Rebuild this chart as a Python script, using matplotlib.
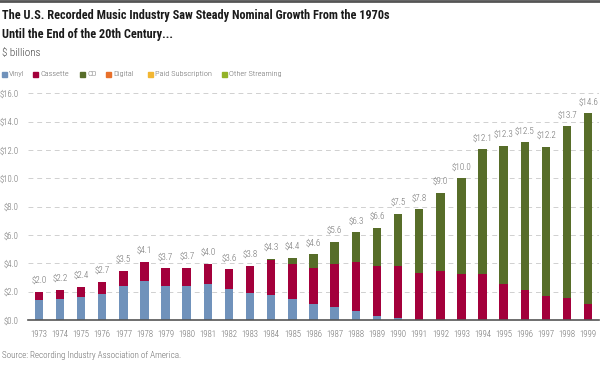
import matplotlib
matplotlib.use('Agg')
import matplotlib.pyplot as plt
import numpy as np
from matplotlib.patches import Rectangle
from matplotlib.lines import Line2D

plt.rcParams['font.family'] = ['Roboto Condensed', 'DejaVu Sans']

years = [str(y) for y in range(1973, 2000)]
vinyl = [1.38, 1.50, 1.64, 1.85, 2.40, 2.72, 2.40, 2.43, 2.56, 2.20, 1.90,
         1.78, 1.50, 1.14, 0.91, 0.66, 0.28, 0.12, 0.0, 0.0, 0.0, 0.0, 0.0,
         0.0, 0.0, 0.0, 0.0]
cassette = [0.60, 0.65, 0.70, 0.85, 1.05, 1.38, 1.25, 1.25, 1.40, 1.38, 1.90,
            2.45, 2.47, 2.55, 3.02, 3.43, 3.53, 3.72, 3.30, 3.46, 3.22, 3.27,
            2.56, 2.14, 1.67, 1.55, 1.11]
cd = [0.0, 0.0, 0.0, 0.0, 0.0, 0.0, 0.0, 0.0, 0.0, 0.0, 0.0,
      0.10, 0.40, 0.94, 1.60, 2.10, 2.71, 3.65, 4.51, 5.52, 6.78, 8.78,
      9.72, 10.40, 10.53, 12.12, 13.48]
totals = ['$2.0', '$2.2', '$2.4', '$2.7', '$3.5', '$4.1', '$3.7', '$3.7', '$4.0',
          '$3.6', '$3.8', '$4.3', '$4.4', '$4.6', '$5.6', '$6.3', '$6.6', '$7.5',
          '$7.8', '$9.0', '$10.0', '$12.1', '$12.3', '$12.5', '$12.2', '$13.7', '$14.6']
legend_labels = ['Vinyl', 'Cassette', 'CD', 'Digital', 'Paid Subscription', 'Other Streaming']

c_vinyl = '#7092bb'
c_cass = '#a3003b'
c_cd = '#576d29'
legend_colors = [c_vinyl, c_cass, c_cd, '#e8702a', '#f2b632', '#93b228']
grey = '#6e6e6e'

W, H = 600, 368
fig = plt.figure(figsize=(6, 3.68), dpi=100)
ax = fig.add_axes([0.047, 0.1304, 0.951, 0.616])

x = np.arange(len(years))
w = 0.4
v = np.array(vinyl)
c = np.array(cassette)
d = np.array(cd)
ax.bar(x, v, w, color=c_vinyl, zorder=3)
ax.bar(x, c, w, bottom=v, color=c_cass, zorder=3)
ax.bar(x, d, w, bottom=v + c, color=c_cd, zorder=3)

top = v + c + d
for i in range(len(x)):
    ax.annotate(totals[i], (x[i], top[i]), xytext=(0, 5), textcoords='offset points',
                ha='center', va='bottom', fontsize=6.5, color=grey, fontweight='light')

ax.set_xlim(-0.5, len(years) - 0.5)
ax.set_ylim(0, 16)
ax.set_yticks(np.arange(0, 17, 2))
ax.set_yticklabels(['$%.1f' % t for t in np.arange(0, 17, 2)], fontweight='light')
ax.set_xticks(x)
ax.set_xticklabels(years, fontweight='light')
ax.tick_params(axis='both', length=0, labelsize=6.3, labelcolor=grey)
ax.tick_params(axis='x', pad=7)
ax.tick_params(axis='y', pad=7)
ax.grid(axis='y', color='#d0d0d0', linestyle=(0, (5, 4)), linewidth=0.7, zorder=0)
for s in ['top', 'right', 'left']:
    ax.spines[s].set_visible(False)
ax.spines['bottom'].set_color('#555555')
ax.spines['bottom'].set_linewidth(1.2)
ax.spines['bottom'].set_zorder(4)

fig.add_artist(Line2D([0, 1], [0.997, 0.997], color='#555555', linewidth=2))
fig.text(0.003, 0.975, 'The U.S. Recorded Music Industry Saw Steady Nominal Growth From the 1970s\n'
         'Until the End of the 20th Century...', fontsize=8.8, fontweight='bold',
         va='top', ha='left', color='#1a1a1a', linespacing=1.55)
fig.text(0.003, 0.855, '$ billions', fontsize=8, va='center', ha='left', color='#444444',
         fontweight='light')

# legend, laid out by hand in pixel positions
leg_x = [2, 33, 80, 106, 148, 222]
leg_y = 74
for px, lab, col in zip(leg_x, legend_labels, legend_colors):
    fig.add_artist(Rectangle((px / W, (H - leg_y - 2.5) / H), 5 / W, 5 / H,
                             color=col, transform=fig.transFigure))
    fig.text((px + 7) / W, (H - leg_y) / H, lab, fontsize=6.0, va='center', ha='left',
             color=grey, fontweight='light')

fig.text(0.003, 0.035, 'Source: Recording Industry Association of America.', fontsize=6.5,
         va='center', ha='left', color=grey, fontweight='light')

fig.savefig('out.png', dpi=100)
